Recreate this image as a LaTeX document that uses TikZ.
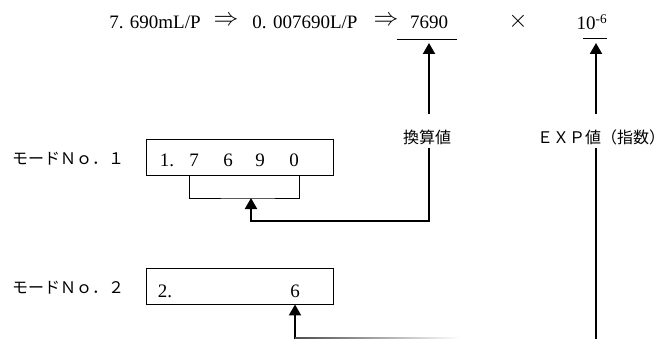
\documentclass[tikz,border=0pt]{standalone}
\usepackage{fontspec}
\setmainfont{Liberation Serif}
\newfontfamily\jpfont{Noto Sans CJK JP}
\usetikzlibrary{arrows.meta}

\begin{document}
\begin{tikzpicture}[x=1pt, y=-1pt,
    every node/.style={font=\fontsize{19}{19}\selectfont, inner sep=0pt},
    jp/.style={font=\fontsize{16}{16}\selectfont\jpfont},
    sym/.style={font=\fontsize{25}{25}\selectfont},
    regbox/.style={draw, line width=0.9pt, minimum width=187pt, minimum height=36pt},
    wire/.style={line width=0.9pt},
    feed/.style={line width=2pt},
    arr/.style={line width=2pt, -{Triangle[length=11pt, width=12pt]}}]
    \useasboundingbox (0,0) rectangle (671,339);

    % --- linha de conversao ---
    \node (vol)        at (155,22) {7. 690mL/P};
    \node[sym] (imp1)  at (226,21) {$\Rightarrow$};
    \node (lit)        at (305,22) {0. 007690L/P};
    \node[sym] (imp2)  at (386,21) {$\Rightarrow$};
    \node (mant)       at (429,22) {7690};
    \node[sym] (times) at (518,21) {$\times$};
    \node (expo)       at (592,22) {10\textsuperscript{-6}};
    \draw[wire] (397,39) -- (457,39);
    \draw[wire] (583,38) -- (607,38);
    \coordinate (manttip) at (429,43);
    \coordinate (expotip) at (596,43);

    % --- rotulos ---
    \node[jp] (conv)   at (427,137) {換算値};
    \node[jp] (explbl) at (601,137) {ＥＸＰ値（指数）};
    \node[jp, anchor=west] (mode1) at (12,159) {モードＮｏ．１};
    \node[jp, anchor=west] (mode2) at (12,288) {モードＮｏ．２};

    % --- registradores ---
    \node[regbox] (box1) at (239.5,157) {};
    \node[regbox] (box2) at (239.5,286) {};
    \foreach \d/\x [count=\i] in {1./167, 7/194, 6/228, 9/260, 0/294}
      \node[anchor=base] (m1d\i) at (\x,167) {\d};
    \node[anchor=base] (m2d1) at (165,297) {2.};
    \node[anchor=base] (m2d2) at (295,297) {6};

    % colchete sob 7690
    \coordinate (brk) at (251,198);
    \draw[wire] (m1d2.west |- box1.south) |- (brk) -| (m1d5.east |- box1.south);

    % --- setas ---
    \coordinate (bend1) at (429,221);
    \coordinate (bend2) at (295,338.5);
    \coordinate (bend3) at (596,339);
    \draw[arr] ([yshift=15pt]conv.north -| manttip) -- (manttip);
    \draw[arr] ([yshift=-3pt]conv.south -| bend1) -- (bend1) -| (brk);
    \draw[arr] ([yshift=15pt]explbl.north -| expotip) -- (expotip);
    \draw[feed] ([yshift=-3pt]explbl.south -| bend3) -- (bend3);
    \draw[arr] (bend2) -- (m2d2 |- box2.south);
    \shade[left color=black!70, right color=white] (295,337.5) rectangle (460,339);
\end{tikzpicture}
\end{document}
